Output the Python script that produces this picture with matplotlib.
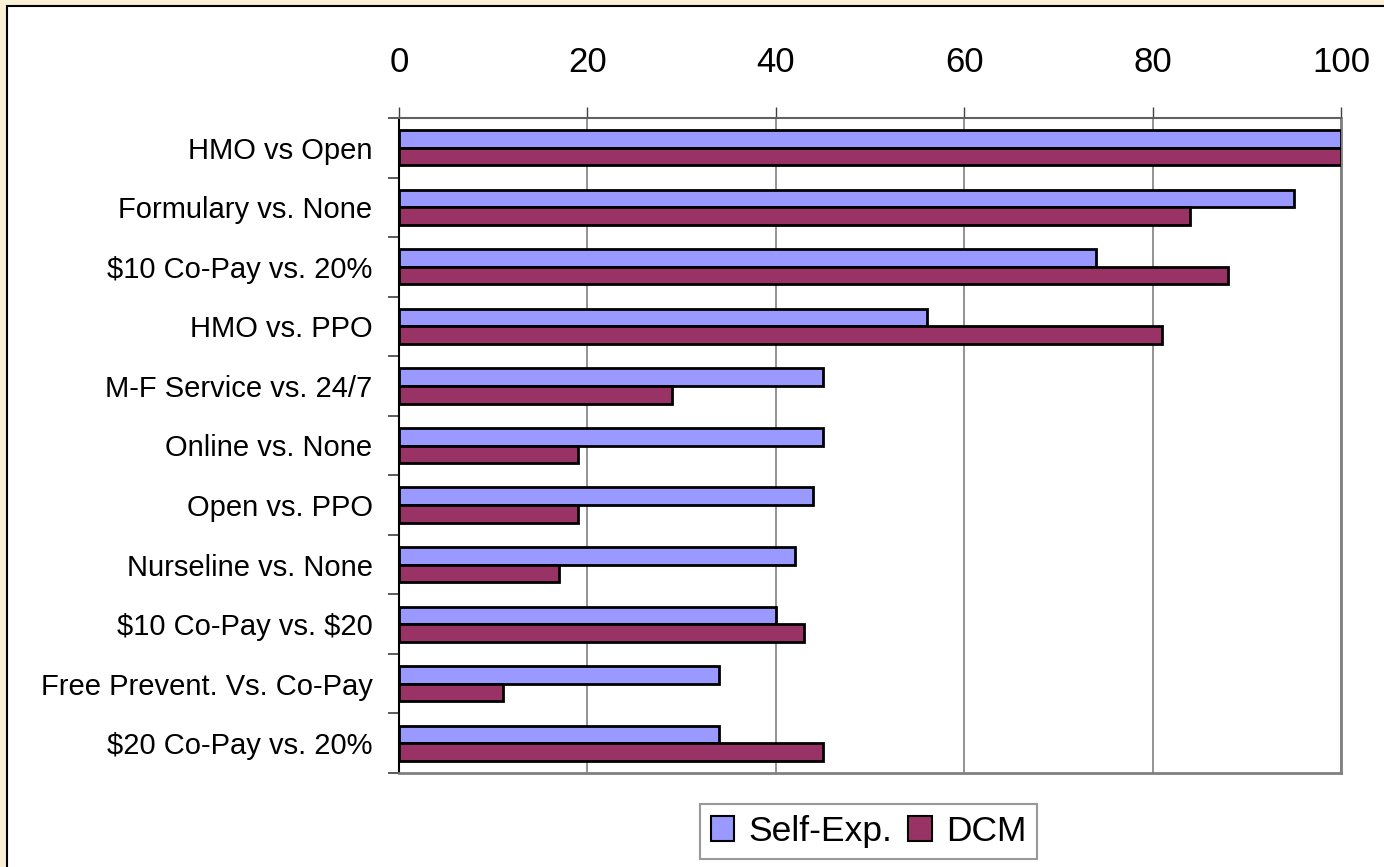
import matplotlib
matplotlib.use("Agg")
import matplotlib.pyplot as plt
from matplotlib.patches import Rectangle
import numpy as np

plt.rcParams['font.family'] = ['Liberation Sans', 'DejaVu Sans']
plt.rcParams['text.parse_math'] = False

categories = ["HMO vs Open", "Formulary vs. None", "$10 Co-Pay vs. 20%", "HMO vs. PPO",
              "M-F Service vs. 24/7", "Online vs. None", "Open vs. PPO", "Nurseline vs. None",
              "$10 Co-Pay vs. $20", "Free Prevent. Vs. Co-Pay", "$20 Co-Pay vs. 20%"]
self_exp = [100, 95, 74, 56, 45, 45, 44, 42, 40, 34, 34]
dcm = [100, 84, 88, 81, 29, 19, 19, 17, 43, 11, 45]
series_names = ["Self-Exp.", "DCM"]
xticks = [0, 20, 40, 60, 80, 100]

W, H = 1384, 867
fig = plt.figure(figsize=(W / 100, H / 100), dpi=100)
fig.patch.set_facecolor('#FBEFD6')
# inner white chart area with border
bg = Rectangle((7 / W, -0.02), 1.0, 1.02 - 6 / H, transform=fig.transFigure,
               facecolor='white', edgecolor='black', linewidth=1.5, zorder=-10)
fig.add_artist(bg)

ax = fig.add_axes([399 / W, 1 - 773 / H, (1341 - 399) / W, (773 - 118) / H])
ax.set_zorder(5)
ax.set_facecolor('white')

y = np.arange(len(categories))
h = 0.295
ax.barh(y - h / 2, self_exp, height=h, color='#9999FF', edgecolor='black', linewidth=2,
        label=series_names[0], zorder=3)
ax.barh(y + h / 2, dcm, height=h, color='#993366', edgecolor='black', linewidth=2,
        label=series_names[1], zorder=3)

ax.set_xlim(0, 100)
ax.set_ylim(len(categories) - 0.5, -0.5)

ax.xaxis.tick_top()
ax.set_xticks(xticks)
ax.set_xticklabels([str(t) for t in xticks], fontsize=25)
ax.tick_params(axis='x', direction='out', length=8, width=1, color='#404040', pad=20)
ax.grid(axis='x', color='#808080', linewidth=1.2, zorder=1)

ax.set_yticks(np.arange(len(categories) + 1) - 0.5)
ax.set_yticklabels([])
ax.set_yticks(y, minor=True)
ax.set_yticklabels(categories, minor=True, fontsize=21)
ax.tick_params(axis='y', which='major', direction='out', length=8, width=1.2, color='#404040')
ax.tick_params(axis='y', which='minor', length=0, pad=19)

ax.spines['left'].set_color('black')
ax.spines['left'].set_linewidth(1.5)
ax.spines['top'].set_color('#606060')
ax.spines['top'].set_linewidth(1.5)
for s in ['right', 'bottom']:
    ax.spines[s].set_color('#808080')
    ax.spines[s].set_linewidth(2)

leg = ax.legend(loc='center', bbox_to_anchor=((868.5 - 399) / (1341 - 399), (773 - 831.5) / (773 - 118)),
                ncol=2, fontsize=25.5, frameon=True, fancybox=False, handlelength=0.66,
                handleheight=0.68, handletextpad=0.4, columnspacing=0.45, borderpad=0.3,
                borderaxespad=0)
leg.get_frame().set_edgecolor('#808080')
leg.get_frame().set_linewidth(1.5)
for p in leg.get_patches():
    p.set_linewidth(1.5)

fig.savefig('out.png', dpi=100, facecolor=fig.get_facecolor())
